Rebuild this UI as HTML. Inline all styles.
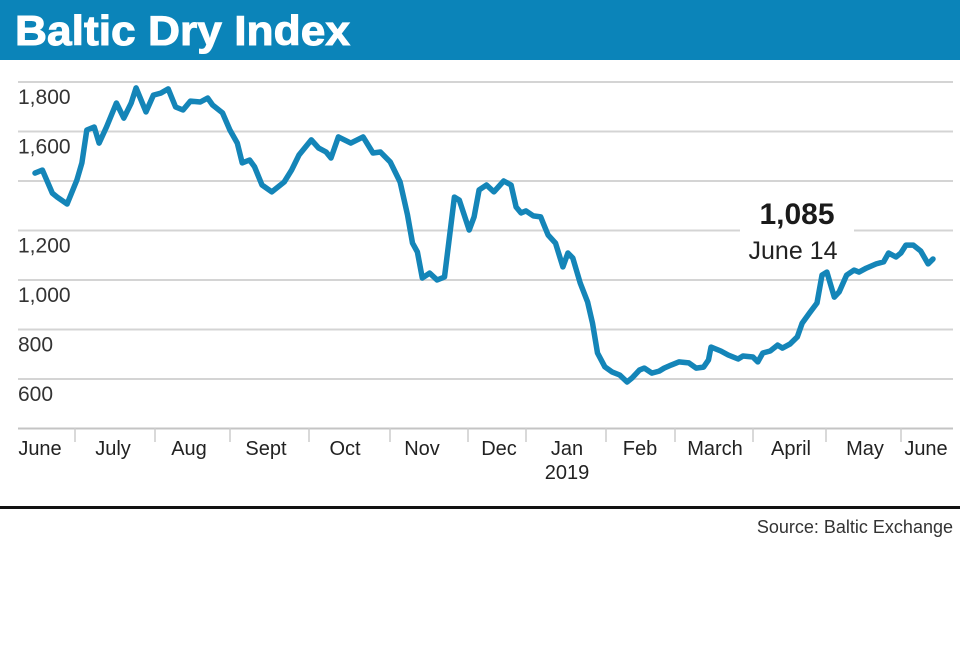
<!DOCTYPE html>
<html><head><meta charset="utf-8"><style>
body{margin:0;background:#fff;width:960px;height:640px;overflow:hidden;font-family:"Liberation Sans",sans-serif}
</style></head><body>
<svg width="960" height="640" viewBox="0 0 960 640">
<rect x="0" y="0" width="960" height="60" fill="#0b84b9"/>
<text x="15" y="45" font-size="42" font-weight="bold" fill="#fff" textLength="335" lengthAdjust="spacingAndGlyphs" stroke="#fff" stroke-width="1" font-family="Liberation Sans, sans-serif">Baltic Dry Index</text>
<g id="grid"></g>
<g id="ylabels" font-family="Liberation Sans Narrow, Liberation Sans, sans-serif" font-size="21" fill="#333"></g>
<g id="xaxis" font-family="Liberation Sans Narrow, Liberation Sans, sans-serif" font-size="20" fill="#222"></g>
<rect x="740" y="222" width="114" height="18" fill="#fff"/>
<path id="line" fill="none" stroke="#1485b8" stroke-width="5.5" stroke-linejoin="round" stroke-linecap="round"/>
<text x="797" y="224" text-anchor="middle" font-size="30" font-weight="bold" fill="#1a1a1a">1,085</text>
<text x="793" y="259" text-anchor="middle" font-size="25" fill="#222" font-family="Liberation Sans Narrow, Liberation Sans, sans-serif">June 14</text>
<rect x="0" y="506" width="960" height="3" fill="#111"/>
<text x="953" y="533" text-anchor="end" font-size="18" fill="#333" font-family="Liberation Sans Narrow, Liberation Sans, sans-serif">Source: Baltic Exchange</text>
</svg>
<script>
const days=[0,3,7,9,13,17,19,21,24,26,29,33,36,39,41,45,48,51,54,57,60,63,67,70,72,76,79,82,84,87,89,92,96,101,104,107,112,115,118,120,123,128,133,137,140,144,148,151,153,155,157,160,163,166,170,172,176,178,180,183,186,190,193,195,197,199,202,205,206,208,211,214,216,218,221,224,226,228,231,234,237,240,242,245,247,250,253,255,258,261,265,268,271,273,274,278,281,285,287,291,293,295,298,301,303,306,309,311,314,317,319,321,324,326,329,332,334,337,341,344,346,349,351,353,356,359,362,364];
const values=[1432,1444,1351,1335,1307,1404,1473,1606,1618,1553,1618,1715,1654,1715,1776,1679,1747,1755,1772,1699,1687,1723,1719,1735,1707,1675,1606,1553,1473,1485,1457,1384,1356,1396,1444,1505,1566,1533,1517,1493,1578,1553,1578,1513,1517,1477,1396,1263,1149,1113,1008,1028,1000,1012,1335,1323,1202,1255,1364,1384,1356,1400,1384,1295,1271,1279,1259,1255,1230,1182,1149,1053,1109,1089,988,911,826,705,649,628,616,588,604,636,644,624,632,644,657,669,665,644,648,677,729,713,697,681,693,689,669,705,713,737,725,741,770,826,867,907,1020,1032,931,952,1020,1040,1032,1048,1065,1073,1109,1093,1109,1141,1141,1117,1065,1085];
const gridValues=[400,600,800,1000,1200,1400,1600,1800];
const tickLabels=["","600","800","1,000","1,200","","1,600","1,800"];
const months=["June","July","Aug","Sept","Oct","Nov","Dec","Jan","Feb","March","April","May","June"];
const monthX=[40,113,189,266,345,422,499,567,640,715,791,865,926];
const tickX=[75,155,230,309,390,468,526,606,675,753,826,901];
const xS=d=>35+d*2.467;
const yS=v=>280-(v-1000)*0.2475;
const NS="http://www.w3.org/2000/svg";
const grid=document.getElementById('grid'),yl=document.getElementById('ylabels'),xa=document.getElementById('xaxis');
gridValues.forEach((v,i)=>{
 const l=document.createElementNS(NS,'line');
 l.setAttribute('x1',18);l.setAttribute('x2',953);l.setAttribute('y1',yS(v));l.setAttribute('y2',yS(v));
 l.setAttribute('stroke',i===0?'#c4c4c4':'#d4d4d4');l.setAttribute('stroke-width',2);
 
 
 grid.appendChild(l);
 if(tickLabels[i]){
  const t=document.createElementNS(NS,'text');
  t.setAttribute('x',18);t.setAttribute('y',yS(v)+22);t.textContent=tickLabels[i];
  
  
  yl.appendChild(t);
 }
});
tickX.forEach(x=>{
 const l=document.createElementNS(NS,'line');
 l.setAttribute('x1',x);l.setAttribute('x2',x);l.setAttribute('y1',428);l.setAttribute('y2',442);
 l.setAttribute('stroke','#ccc');l.setAttribute('stroke-width',1.5);
 
 
 xa.appendChild(l);
});
months.forEach((m,i)=>{
 const t=document.createElementNS(NS,'text');
 t.setAttribute('x',monthX[i]);t.setAttribute('y',455);t.setAttribute('text-anchor','middle');t.textContent=m;
 
 
 xa.appendChild(t);
});
const yr=document.createElementNS(NS,'text');
yr.setAttribute('x',567);yr.setAttribute('y',479);yr.setAttribute('text-anchor','middle');yr.textContent='2019';


xa.appendChild(yr);
document.getElementById('line').setAttribute('d',days.map((d,i)=>(i?'L':'M')+xS(d).toFixed(1)+','+yS(values[i]).toFixed(1)).join(''));
</script>
</body></html>
